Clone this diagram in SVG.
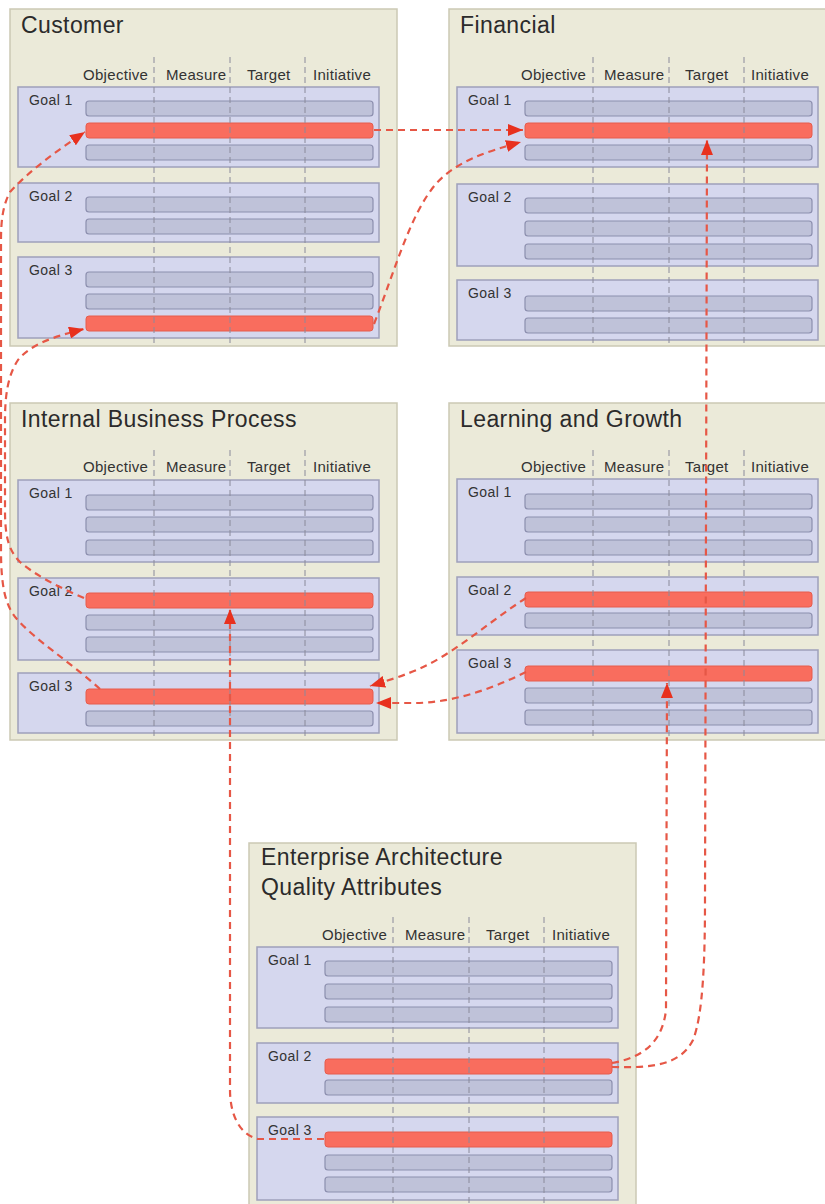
<svg xmlns="http://www.w3.org/2000/svg" width="825" height="1204" viewBox="0 0 825 1204">
  <style>
    .panel { fill: #ebead9; stroke: #cbc9b4; stroke-width: 1.5; }
    .title { font-family: "Liberation Sans", Arial, Helvetica, sans-serif; font-size: 23px; letter-spacing: 0.4px; fill: #2b2b2b; }
    .head { font-family: "Liberation Sans", Arial, Helvetica, sans-serif; font-size: 15px; letter-spacing: 0.3px; fill: #333333; }
    .goal { fill: #d5d7ee; stroke: #9ea0bb; stroke-width: 1.5; }
    .glabel { font-family: "Liberation Sans", Arial, Helvetica, sans-serif; font-size: 14px; letter-spacing: 0.4px; fill: #333333; }
    .bar { fill: #bfc2d9; stroke: #8c8fae; stroke-width: 1.2; }
    .hot { fill: #f96d5e; stroke: #e65c4d; stroke-width: 1; }
    .div { stroke: #8a8a9a; stroke-width: 1; stroke-dasharray: 6 4; fill: none; }
    .link { fill: none; stroke: #e65746; stroke-width: 2.2; stroke-dasharray: 7 5; }
  </style>
  <defs>
    <marker id="tip" markerUnits="userSpaceOnUse" markerWidth="15" markerHeight="12" refX="15" refY="6" orient="auto">
      <path d="M0,0 L15,6 L0,12 Z" fill="#e8311e"/>
    </marker>
  </defs>

  <rect width="825" height="1204" fill="#ffffff"/>

  <!-- Customer perspective -->
  <g id="customer">
    <rect class="panel" x="10" y="9" width="387" height="337"/>
    <text class="title" x="21" y="33">Customer</text>
    <text class="head" x="83" y="80">Objective</text>
    <text class="head" x="166" y="80">Measure</text>
    <text class="head" x="247" y="80">Target</text>
    <text class="head" x="313" y="80">Initiative</text>
    <rect class="goal" x="18" y="87" width="361" height="80"/>
    <text class="glabel" x="29" y="105">Goal 1</text>
    <rect class="bar" x="86" y="101" width="287" height="15" rx="3"/>
    <rect class="hot" x="86" y="123" width="287" height="15" rx="3"/>
    <rect class="bar" x="86" y="145" width="287" height="15" rx="3"/>
    <rect class="goal" x="18" y="183" width="361" height="59"/>
    <text class="glabel" x="29" y="201">Goal 2</text>
    <rect class="bar" x="86" y="197" width="287" height="15" rx="3"/>
    <rect class="bar" x="86" y="219" width="287" height="15" rx="3"/>
    <rect class="goal" x="18" y="257" width="361" height="81"/>
    <text class="glabel" x="29" y="275">Goal 3</text>
    <rect class="bar" x="86" y="272" width="287" height="15" rx="3"/>
    <rect class="bar" x="86" y="294" width="287" height="15" rx="3"/>
    <rect class="hot" x="86" y="316" width="287" height="15" rx="3"/>
    <path class="div" d="M154,57 V346 M230,57 V346 M305,57 V346"/>
  </g>

  <!-- Financial perspective -->
  <g id="financial">
    <rect class="panel" x="449" y="9" width="387" height="337"/>
    <text class="title" x="460" y="33">Financial</text>
    <text class="head" x="521" y="80">Objective</text>
    <text class="head" x="604" y="80">Measure</text>
    <text class="head" x="685" y="80">Target</text>
    <text class="head" x="751" y="80">Initiative</text>
    <rect class="goal" x="457" y="87" width="361" height="80"/>
    <text class="glabel" x="468" y="105">Goal 1</text>
    <rect class="bar" x="525" y="101" width="287" height="15" rx="3"/>
    <rect class="hot" x="525" y="123" width="287" height="15" rx="3"/>
    <rect class="bar" x="525" y="145" width="287" height="15" rx="3"/>
    <rect class="goal" x="457" y="184" width="361" height="82"/>
    <text class="glabel" x="468" y="202">Goal 2</text>
    <rect class="bar" x="525" y="198" width="287" height="15" rx="3"/>
    <rect class="bar" x="525" y="221" width="287" height="15" rx="3"/>
    <rect class="bar" x="525" y="244" width="287" height="15" rx="3"/>
    <rect class="goal" x="457" y="280" width="361" height="60"/>
    <text class="glabel" x="468" y="298">Goal 3</text>
    <rect class="bar" x="525" y="296" width="287" height="15" rx="3"/>
    <rect class="bar" x="525" y="318" width="287" height="15" rx="3"/>
    <path class="div" d="M593,57 V346 M669,57 V346 M744,57 V346"/>
  </g>

  <!-- Internal Business Process perspective -->
  <g id="internal-business-process">
    <rect class="panel" x="10" y="403" width="387" height="337"/>
    <text class="title" x="21" y="427">Internal Business Process</text>
    <text class="head" x="83" y="472">Objective</text>
    <text class="head" x="166" y="472">Measure</text>
    <text class="head" x="247" y="472">Target</text>
    <text class="head" x="313" y="472">Initiative</text>
    <rect class="goal" x="18" y="480" width="361" height="82"/>
    <text class="glabel" x="29" y="498">Goal 1</text>
    <rect class="bar" x="86" y="495" width="287" height="15" rx="3"/>
    <rect class="bar" x="86" y="517" width="287" height="15" rx="3"/>
    <rect class="bar" x="86" y="540" width="287" height="15" rx="3"/>
    <rect class="goal" x="18" y="578" width="361" height="82"/>
    <text class="glabel" x="29" y="596">Goal 2</text>
    <rect class="hot" x="86" y="593" width="287" height="15" rx="3"/>
    <rect class="bar" x="86" y="615" width="287" height="15" rx="3"/>
    <rect class="bar" x="86" y="637" width="287" height="15" rx="3"/>
    <rect class="goal" x="18" y="673" width="361" height="60"/>
    <text class="glabel" x="29" y="691">Goal 3</text>
    <rect class="hot" x="86" y="689" width="287" height="15" rx="3"/>
    <rect class="bar" x="86" y="711" width="287" height="15" rx="3"/>
    <path class="div" d="M154,450 V740 M230,450 V740 M305,450 V740"/>
  </g>

  <!-- Learning and Growth perspective -->
  <g id="learning-and-growth">
    <rect class="panel" x="449" y="403" width="387" height="337"/>
    <text class="title" x="460" y="427">Learning and Growth</text>
    <text class="head" x="521" y="472">Objective</text>
    <text class="head" x="604" y="472">Measure</text>
    <text class="head" x="685" y="472">Target</text>
    <text class="head" x="751" y="472">Initiative</text>
    <rect class="goal" x="457" y="479" width="361" height="83"/>
    <text class="glabel" x="468" y="497">Goal 1</text>
    <rect class="bar" x="525" y="494" width="287" height="15" rx="3"/>
    <rect class="bar" x="525" y="517" width="287" height="15" rx="3"/>
    <rect class="bar" x="525" y="540" width="287" height="15" rx="3"/>
    <rect class="goal" x="457" y="577" width="361" height="58"/>
    <text class="glabel" x="468" y="595">Goal 2</text>
    <rect class="hot" x="525" y="592" width="287" height="15" rx="3"/>
    <rect class="bar" x="525" y="613" width="287" height="15" rx="3"/>
    <rect class="goal" x="457" y="650" width="361" height="83"/>
    <text class="glabel" x="468" y="668">Goal 3</text>
    <rect class="hot" x="525" y="666" width="287" height="15" rx="3"/>
    <rect class="bar" x="525" y="688" width="287" height="15" rx="3"/>
    <rect class="bar" x="525" y="710" width="287" height="15" rx="3"/>
    <path class="div" d="M593,450 V740 M669,450 V740 M744,450 V740"/>
  </g>

  <!-- Enterprise Architecture Quality Attributes -->
  <g id="enterprise-architecture">
    <rect class="panel" x="249" y="843" width="387" height="366"/>
    <text class="title" x="261" y="865">Enterprise Architecture</text>
    <text class="title" x="261" y="895">Quality Attributes</text>
    <text class="head" x="322" y="940">Objective</text>
    <text class="head" x="405" y="940">Measure</text>
    <text class="head" x="486" y="940">Target</text>
    <text class="head" x="552" y="940">Initiative</text>
    <rect class="goal" x="257" y="947" width="361" height="81"/>
    <text class="glabel" x="268" y="965">Goal 1</text>
    <rect class="bar" x="325" y="961" width="287" height="15" rx="3"/>
    <rect class="bar" x="325" y="984" width="287" height="15" rx="3"/>
    <rect class="bar" x="325" y="1007" width="287" height="15" rx="3"/>
    <rect class="goal" x="257" y="1043" width="361" height="60"/>
    <text class="glabel" x="268" y="1061">Goal 2</text>
    <rect class="hot" x="325" y="1059" width="287" height="15" rx="3"/>
    <rect class="bar" x="325" y="1080" width="287" height="15" rx="3"/>
    <rect class="goal" x="257" y="1117" width="361" height="83"/>
    <text class="glabel" x="268" y="1135">Goal 3</text>
    <rect class="hot" x="325" y="1132" width="287" height="15" rx="3"/>
    <rect class="bar" x="325" y="1155" width="287" height="15" rx="3"/>
    <rect class="bar" x="325" y="1177" width="287" height="15" rx="3"/>
    <path class="div" d="M393,917 V1204 M469,917 V1204 M544,917 V1204"/>
  </g>

  <!-- cause-and-effect links between goals -->
  <g id="connectors">
    <path class="link" marker-end="url(#tip)" d="M374,130 L523,130"/>
    <path class="link" marker-end="url(#tip)" d="M374,324 C395,270 410,215 435,185 C455,162 485,152 521,142"/>
    <path class="link" marker-end="url(#tip)" d="M100,689 C70,662 35,640 16,618 C5,605 1,585 1,550 L1,240 C1,220 3,205 10,192 C30,170 58,150 85,132"/>
    <path class="link" marker-end="url(#tip)" d="M84,598 C60,588 35,575 20,562 C8,550 5,535 5,510 L5,420 C5,395 8,375 18,360 C30,345 52,337 84,329"/>
    <path class="link" marker-end="url(#tip)" d="M526,598 C495,618 470,640 440,658 C420,670 400,677 370,686"/>
    <path class="link" marker-end="url(#tip)" d="M526,672 C490,690 450,703 415,703 L376,703"/>
    <path class="link" marker-end="url(#tip)" d="M324,1139 L258,1139 C240,1135 230,1115 230,1090 L230,609"/>
    <path class="link" marker-end="url(#tip)" d="M612,1063 C640,1058 662,1045 666,1010 L667,683"/>
    <path class="link" marker-end="url(#tip)" d="M612,1067 C650,1068 680,1066 693,1040 C703,1015 705,960 705,900 L707,140"/>
  </g>
</svg>
